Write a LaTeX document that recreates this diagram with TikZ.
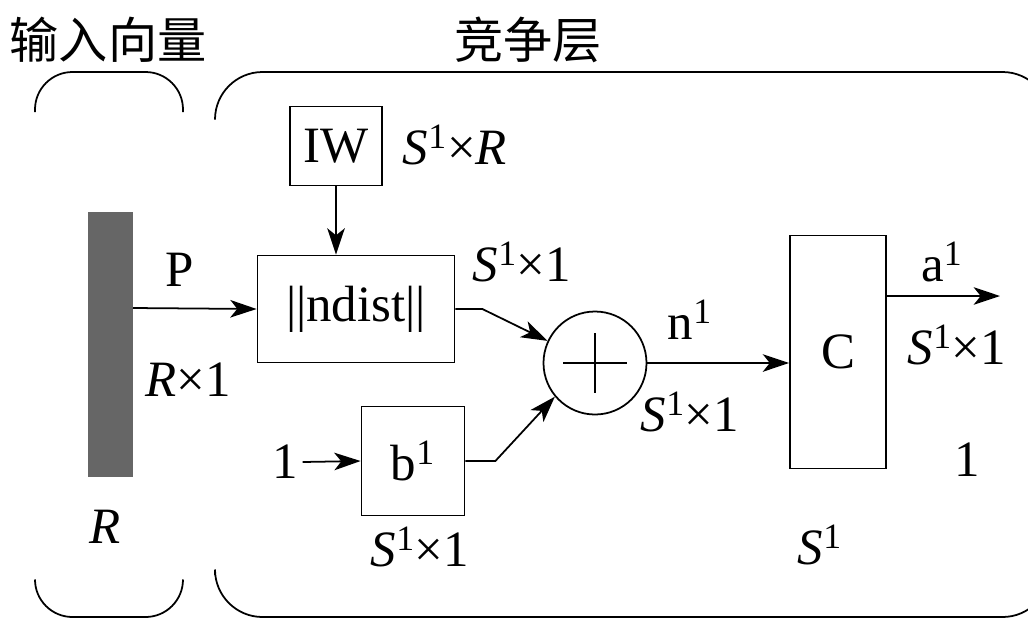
\documentclass[tikz,border=0pt]{standalone}
\usepackage{fontspec}
\setmainfont{Liberation Serif}
\newfontfamily\cjk{Noto Sans CJK SC}
\usetikzlibrary{arrows.meta,positioning}

\begin{document}
\begin{tikzpicture}[x=0.02cm, y=-0.02cm, line width=1pt,
  font=\fontsize{29}{31}\selectfont,
  blk/.style={draw, inner sep=0pt},
  lbl/.style={inner sep=0pt},
  >={Stealth[length=15pt,width=10pt,inset=4pt]}]
  \useasboundingbox (0,0) rectangle (1028,620);
  % titles
  \node[lbl, font=\cjk\fontsize{28}{30}\selectfont] (tin) at (108,40) {输入向量};
  \node[lbl, font=\cjk\fontsize{28}{30}\selectfont] (tcomp) at (528,40) {竞争层};
  % brackets
  \draw[rounded corners=0.75cm] (35,112) -- (35,72) -- (183,72) -- (183,112);
  \draw[rounded corners=0.75cm] (35,582) -- (35,617) -- (183,617) -- (183,582);
  \draw[rounded corners=0.95cm] (215,118) -- (215,72) -- (1050,72) -- (1050,118);
  \draw[rounded corners=0.95cm] (215,575) -- (215,617) -- (1050,617) -- (1050,575);
  % input bar
  \fill[black!60] (88,212) rectangle (133,477);
  \coordinate (pout) at (133,308);
  \node[lbl] (P) at (180,270) {P};
  \node[lbl] (Rx1) at (188,380) {\textit{R}×1};
  \node[lbl] (R) at (105,527) {\textit{R}};
  % weight and distance
  \node[blk, minimum width=92*0.02cm, minimum height=79*0.02cm] (IW) at (336,146) {IW};
  \node[lbl] (IWdim) at (455,145) {\textit{S}\textsuperscript{1}×\textit{R}};
  \node[blk, minimum width=197*0.02cm, minimum height=107*0.02cm] (nd) at (356,309) {||ndist||};
  \node[lbl] (nddim) at (522,262) {\textit{S}\textsuperscript{1}×1};
  % bias
  \node[lbl] (one) at (285,462) {1};
  \node[blk, minimum width=103*0.02cm, minimum height=109*0.02cm] (b) at (413,461) {b\textsuperscript{1}};
  \node[lbl] (bdim) at (420,547) {\textit{S}\textsuperscript{1}×1};
  % sum
  \node[draw, circle, minimum size=103*0.02cm, inner sep=0pt] (sum) at (595,363) {};
  \draw (sum.center) ++(-32,0) -- ++(64,0);
  \draw (sum.center) ++(0,-30) -- ++(0,60);
  \node[lbl] (n) at (690,320) {n\textsuperscript{1}};
  \node[lbl] (ndim) at (690,412) {\textit{S}\textsuperscript{1}×1};
  % competition
  \node[blk, minimum width=96*0.02cm, minimum height=233*0.02cm] (C) at (838,352) {C};
  \node[lbl] (Cdim) at (820,545) {\textit{S}\textsuperscript{1}};
  \coordinate (aout) at (1000,296);
  \node[lbl] (a) at (942,262) {a\textsuperscript{1}};
  \node[lbl] (adim) at (957,345) {\textit{S}\textsuperscript{1}×1};
  \node[lbl] (aone) at (967,460) {1};
  % connections
  \draw[->] (pout) -- (nd.west);
  \draw[->] (IW.south) -- (nd.north -| IW.south);
  \draw[->] (nd.east) -- ++(27,0) -- (sum.155);
  \draw[->] (one.east) ++(4,0) -- (b.west);
  \draw[->] (b.east) -- ++(30,0) -- (sum.220);
  \draw[->] (sum.east) -- (C.west |- sum.east);
  \draw[->] (C.east |- aout) -- (aout);
\end{tikzpicture}
\end{document}
